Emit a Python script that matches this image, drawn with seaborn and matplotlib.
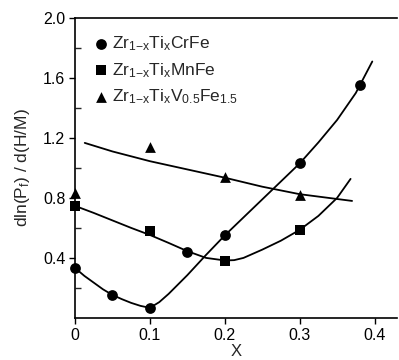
import numpy as np
import pandas as pd
import seaborn as sns
import matplotlib
matplotlib.use("Agg")
import matplotlib.pyplot as plt

# Measured points
cr_x = [0.0, 0.05, 0.10, 0.15, 0.20, 0.30, 0.38]
cr_y = [0.333, 0.15, 0.067, 0.44, 0.55, 1.03, 1.555]
mn_x = [0.0, 0.10, 0.20, 0.30]
mn_y = [0.745, 0.58, 0.38, 0.587]
v_x = [0.0, 0.10, 0.20, 0.30]
v_y = [0.83, 1.14, 0.94, 0.82]

# Fitted curves
cr_cx = [0.0, 0.0125, 0.025, 0.0375, 0.05, 0.0625, 0.075, 0.0875, 0.10, 0.1125,
         0.125, 0.15, 0.175, 0.20, 0.225, 0.25, 0.275, 0.30, 0.325, 0.35, 0.375, 0.397]
cr_cy = [0.333, 0.28, 0.235, 0.19, 0.153, 0.125, 0.10, 0.08, 0.067, 0.105,
         0.16, 0.285, 0.42, 0.55, 0.67, 0.79, 0.91, 1.03, 1.17, 1.32, 1.50, 1.71]
mn_cx = [0.0, 0.025, 0.05, 0.075, 0.10, 0.125, 0.15, 0.175, 0.20, 0.2125, 0.225,
         0.25, 0.275, 0.30, 0.325, 0.35, 0.368]
mn_cy = [0.747, 0.70, 0.65, 0.60, 0.553, 0.50, 0.445, 0.40, 0.383, 0.385, 0.40,
         0.455, 0.515, 0.587, 0.68, 0.80, 0.927]
v_cx = [0.013, 0.05, 0.10, 0.15, 0.20, 0.25, 0.30, 0.37]
v_cy = [1.167, 1.11, 1.045, 0.99, 0.935, 0.875, 0.825, 0.78]

labels = [r"Zr$_{1\mathregular{-}x}$Ti$_x$CrFe",
          r"Zr$_{1\mathregular{-}x}$Ti$_x$MnFe",
          r"Zr$_{1\mathregular{-}x}$Ti$_x$V$_{0.5}$Fe$_{1.5}$"]

sns.set_style("ticks")
plt.rcParams["font.family"] = ["Liberation Sans", "DejaVu Sans"]
plt.rcParams["mathtext.fontset"] = "custom"
plt.rcParams["mathtext.rm"] = "Liberation Sans"
plt.rcParams["mathtext.it"] = "Liberation Sans"

fig = plt.figure(figsize=(3.99, 3.6), dpi=100)
ax = fig.add_axes([0.188, 0.117, 0.807, 0.833])

for cx, cy in [(cr_cx, cr_cy), (mn_cx, mn_cy), (v_cx, v_cy)]:
    sns.lineplot(x=cx, y=cy, ax=ax, color="black", lw=1.3, sort=False, legend=False)

markers = ["o", "s", "^"]
for (px, py), m, lab in zip([(cr_x, cr_y), (mn_x, mn_y), (v_x, v_y)], markers, labels):
    sns.scatterplot(x=px, y=py, ax=ax, marker=m, color="black", s=60,
                    edgecolor="black", linewidth=0, label=lab, clip_on=False, zorder=5)

ax.set_xlim(0, 0.43)
ax.set_ylim(0, 2.0)
ax.set_xticks([0, 0.1, 0.2, 0.3, 0.4])
ax.set_xticklabels(["0", "0.1", "0.2", "0.3", "0.4"])
ax.set_yticks([0.4, 0.8, 1.2, 1.6, 2.0])
ax.set_yticklabels(["0.4", "0.8", "1.2", "1.6", "2.0"])
ax.set_yticks([0.2, 0.6, 1.0, 1.4, 1.8], minor=True)
ax.tick_params(axis="both", which="major", labelsize=11.5, direction="out", length=4,
               width=1, colors="black", pad=3)
ax.tick_params(axis="y", which="minor", direction="in", length=4, width=1)
ax.spines["right"].set_visible(False)
for s in ["left", "bottom", "top"]:
    ax.spines[s].set_linewidth(1.2)
    ax.spines[s].set_color("black")

ax.set_xlabel("X", fontsize=12, labelpad=1)
ax.set_ylabel(r"dln(P$_f$) / d(H/M)", fontsize=12.5, labelpad=8)

leg = ax.legend(loc="upper left", bbox_to_anchor=(0.055, 0.945), frameon=False,
                fontsize=12.5, handletextpad=0.1, handlelength=1.0,
                labelspacing=0.45, borderaxespad=0.0, borderpad=0.0, markerscale=1.0)

fig.savefig("out.png", dpi=100)
